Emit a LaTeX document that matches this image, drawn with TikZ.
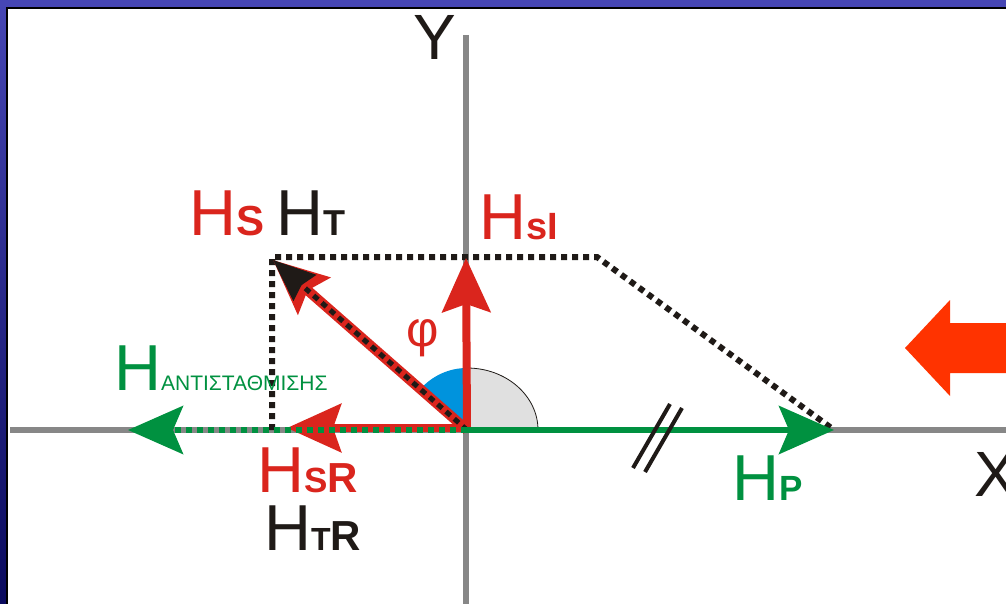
\documentclass[tikz,border=0pt]{standalone}
\usepackage{fontspec}
\setmainfont{Liberation Sans}
\usepackage{xcolor}
\usetikzlibrary{arrows.meta,positioning,calc}
\definecolor{hred}{HTML}{DA251D}
\definecolor{hgreen}{HTML}{009140}
\definecolor{hblack}{HTML}{1F1A17}
\definecolor{axisgray}{HTML}{878787}
\definecolor{phiblue}{HTML}{0093DD}
\definecolor{arcgray}{HTML}{E0E0E0}
\definecolor{pushred}{HTML}{FF3300}
\definecolor{frametop}{HTML}{4646B4}
\definecolor{framebot}{HTML}{0A0A5E}
\newcommand{\hsub}[2]{{\fontsize{#1}{#1}\selectfont\bfseries #2}}

\begin{document}
\begin{tikzpicture}[x=1pt, y=-1pt,
    axis/.style={draw=axisgray, line width=6pt},
    redvec/.style={draw=hred, line width=8pt, -{Stealth[length=54pt, width=48pt, inset=8pt]}},
    greenvec/.style={draw=hgreen, line width=6pt, -{Stealth[length=55pt, width=48pt, inset=10pt]}},
    dots/.style={draw=hblack, line width=6pt, dash pattern=on 6pt off 5pt},
    big/.style={font=\fontsize{65}{70}\selectfont},
    every node/.style={inner sep=0pt}]
  \useasboundingbox (0,0) rectangle (1006,604);
  % frame
  \fill[white] (0,0) rectangle (1006,604);
  \shade[top color=frametop, bottom color=framebot] (0,0) rectangle (6,604);
  \fill[frametop] (0,0) rectangle (1006,7);
  \fill[black] (6,7) rectangle (1006,9);
  \fill[black] (6,7) rectangle (8,604);
  % points
  \coordinate (O)  at (467,430);
  \coordinate (Or) at (467,428);
  \coordinate (S)  at (273,260);
  \coordinate (I)  at (466,258);
  \coordinate (R)  at (287,428);
  \coordinate (A)  at (128,430);
  \coordinate (P)  at (834,430);
  \coordinate (K)  at (272,257);
  \coordinate (C)  at (597,257);
  \coordinate (T)  at (272,430);
  % axes
  \draw[axis] (466,35) -- (466,604);
  \draw[axis] (10,430) -- (1006,430);
  \node[font=\fontsize{64}{64}\selectfont, text=hblack] (ylab) at (435,37) {Y};
  \node[font=\fontsize{64}{64}\selectfont, text=hblack, anchor=base west] (xlab) at (974,496) {X};
  % angle
  \fill[arcgray] (O) -- ++(71,0) arc[start angle=0, end angle=-90, x radius=71, y radius=62] -- cycle;
  \draw[hblack, line width=0.8pt] ($(O)+(71,0)$) arc[start angle=0, end angle=-90, x radius=71, y radius=62];
  \fill[phiblue] (O) -- ++(0,-62) arc[start angle=-90, end angle=-139, radius=62] -- cycle;
  % dotted parallelogram
  \draw[dots] (T) -- (K) -- (C) -- (P);
  % red vectors
  \draw[redvec] (Or) -- (I);
  \draw[redvec] (Or) -- (R);
  \draw[redvec, line width=10pt] (O) -- (S);
  \draw[dots, line width=5pt, -{Stealth[length=42pt, width=34pt, inset=4pt]}] (O) -- (S);
  % green vectors
  \draw[greenvec] (O) -- (P);
  \draw[greenvec, dash pattern=on 6pt off 5pt] (O) -- (A);
  % parallel marks
  \draw[hblack, line width=4pt] (633,468) -- (670,404) (645,472) -- (682,408);
  % push arrow
  \fill[pushred] (905,348) -- (950,300) -- (950,323) -- (1006,323) -- (1006,373)
    -- (950,373) -- (950,396) -- cycle;
  % labels
  \node[big, text=hred, anchor=base west] (hs) at (189,235) {H\hsub{42}{S}};
  \node[big, text=hblack, anchor=base west] (ht) at (276,235) {H\hsub{36}{T}};
  \node[big, text=hred, anchor=base west] (hsi) at (479,239) {H\hsub{38}{sI}};
  \node[font=\fontsize{50}{50}\selectfont, text=hred] (phi) at (423,338) {φ};
  \node[big, text=hgreen, anchor=base west] (hanti) at (114,390)
    {H{\fontsize{21}{21}\selectfont ΑΝΤΙΣΤΑΘΜΙΣΗΣ}};
  \node[big, text=hred, anchor=base west] (hsr) at (257,492) {H\hsub{35}{S}\hsub{42}{R}};
  \node[big, text=hblack, anchor=base west] (htr) at (264,550) {H\hsub{32}{T}\hsub{42}{R}};
  \node[big, text=hgreen, anchor=base west] (hp) at (732,500) {H\hsub{35}{P}};
\end{tikzpicture}
\end{document}
